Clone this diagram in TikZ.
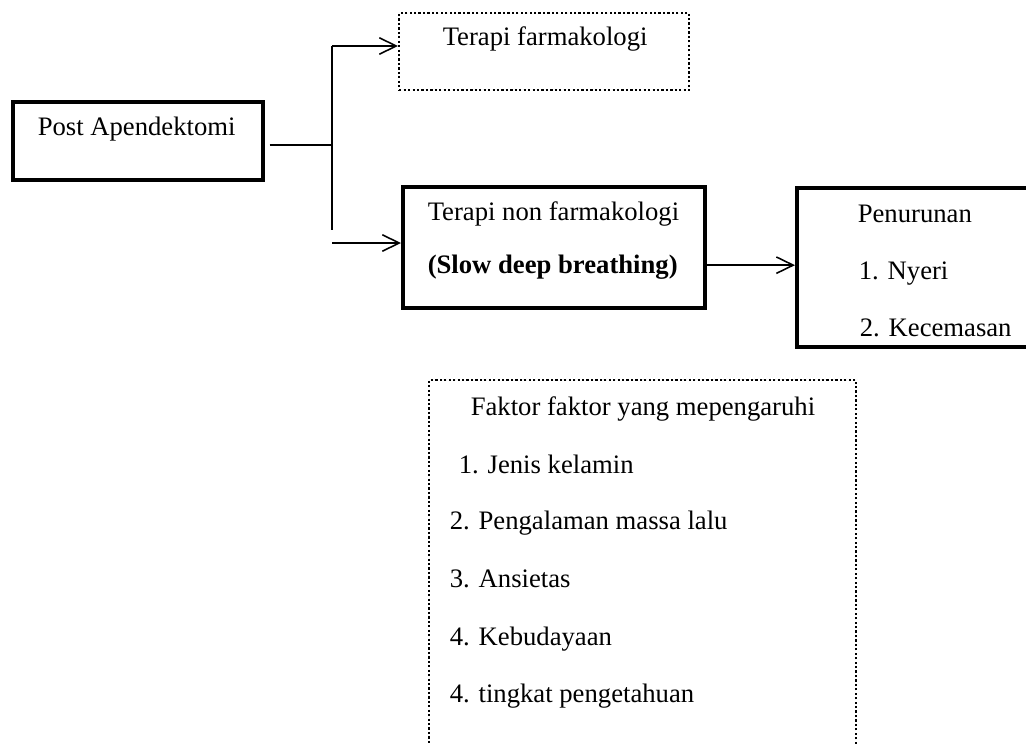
\documentclass[tikz,border=0pt]{standalone}
\usepackage{fontspec}
\setmainfont{Liberation Serif}
\usetikzlibrary{arrows.meta}
\tikzstyle{kotak}=[rectangle, draw=black, line width=1.9pt, anchor=north west, inner sep=0pt]
\tikzstyle{kotaktitik}=[rectangle, draw=black, line width=1.1pt, dash pattern=on 1pt off 1pt, anchor=north west, inner sep=0pt]
\tikzstyle{teks}=[anchor=base west, inner sep=0pt]
\tikzstyle{panah}=[-{Straight Barb[length=7.6pt,width=7.4pt]}]

\begin{document}
\begin{tikzpicture}[x=0.45pt, y=-0.45pt, line width=0.7pt, font=\fontsize{12}{14}\selectfont]
	\useasboundingbox (0,0) rectangle (1026,743);
	\clip (0,0) rectangle (1026,743);
	\node[kotak, minimum width=112.5pt, minimum height=35.1pt] (post) at (11,100){};
	\node[kotaktitik, minimum width=130.5pt, minimum height=34.65pt] (farm) at (398,12){};
	\node[kotak, minimum width=135.9pt, minimum height=54.45pt] (nonfarm) at (401,185){};
	\node[kotak, minimum width=105.75pt, minimum height=71.55pt] (turun) at (795,186){};
	\node[kotaktitik, minimum width=192.15pt, minimum height=171.45pt] (faktor) at (428,379){};
	\node[teks] (tpost) at (37,135){Post Apendektomi};
	\node[teks] (tfarm) at (442,45){Terapi farmakologi};
	\node[teks] (tnon) at (427,220){Terapi non farmakologi};
	\node[teks] (tsdb) at (427,273){\textbf{(Slow deep breathing)}};
	\node[teks] (tturun) at (857,222){Penurunan};
	\node[teks] (tnyeri) at (858,279){1. Nyeri};
	\node[teks] (tcemas) at (859,336){2. Kecemasan};
	\node[teks] (fjudul) at (470,415){Faktor faktor yang mepengaruhi};
	\node[teks] (fsatu) at (458,473){1. Jenis kelamin};
	\node[teks] (fdua) at (449,529){2. Pengalaman massa lalu};
	\node[teks] (ftiga) at (449,587){3. Ansietas};
	\node[teks] (fempat) at (449,645){4. Kebudayaan};
	\node[teks] (flima) at (449,702){4. tingkat pengetahuan};
	\coordinate (cabang) at (332,145);
	\coordinate (cabangatas) at (332,46);
	\coordinate (cabangbawah) at (332,230);
	\coordinate (cabangpanah) at (332,243);
	\path[draw=black] ([xshift=2pt]post.east |- cabang) -- (cabang);
	\path[draw=black] (cabangatas) -- (cabangbawah);
	\path[draw=black, panah] (cabangatas) -- (cabangatas -| farm.west);
	\path[draw=black, panah] (cabangpanah) -- (cabangpanah -| nonfarm.west);
	\path[draw=black, panah] ([yshift=-7.9pt]nonfarm.east) -- ([yshift=-7.9pt]nonfarm.east -| turun.west);
\end{tikzpicture}
\end{document}
